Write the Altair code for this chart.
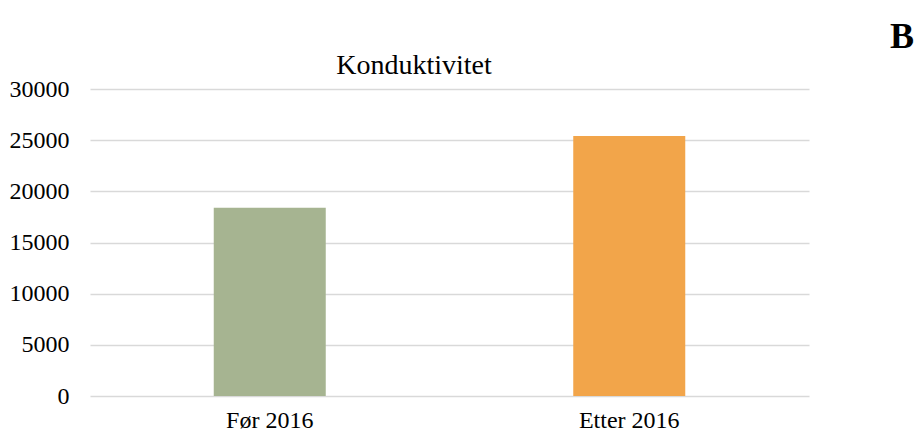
import altair as alt
import pandas as pd

categories = ["Før 2016", "Etter 2016"]
values = [18400, 25400]
colors = ["#A6B491", "#F2A54A"]
y_ticks = [0, 5000, 10000, 15000, 20000, 25000, 30000]
chart_title = "Konduktivitet"
panel_label = "B"

df = pd.DataFrame({"periode": categories, "verdi": values})

FONT = "Liberation Serif"

bars = alt.Chart(df).mark_bar(size=112).encode(
    x=alt.X("periode:N", sort=categories, title=None,
            scale=alt.Scale(paddingInner=0, paddingOuter=0),
            axis=alt.Axis(labelAngle=0, labelFont=FONT, labelFontSize=24,
                          labelColor="#000000", labelPadding=12,
                          ticks=False, domain=False)),
    y=alt.Y("verdi:Q", title=None,
            scale=alt.Scale(domain=[0, 30000]),
            axis=alt.Axis(values=y_ticks, format="d", labelFont=FONT,
                          labelFontSize=24, labelColor="#000000",
                          labelPadding=21, ticks=False, domain=False,
                          grid=True, gridColor="#d9d9d9", gridWidth=1.5)),
    color=alt.Color("periode:N", sort=categories,
                    scale=alt.Scale(domain=categories, range=colors),
                    legend=None),
)

title_text = alt.Chart(pd.DataFrame({"t": [chart_title]})).mark_text(
    font=FONT, fontSize=28, align="center", baseline="alphabetic",
    color="#000000"
).encode(text="t:N", x=alt.value(324), y=alt.value(-15))

label = alt.Chart(pd.DataFrame({"t": [panel_label]})).mark_text(
    font=FONT, fontSize=36, fontWeight="bold", align="right",
    baseline="alphabetic", color="#000000"
).encode(text="t:N", x=alt.value(824), y=alt.value(-41))

chart = alt.layer(bars, title_text, label).properties(
    width=719, height=307,
    autosize=alt.AutoSizeParams(type="none"),
    padding={"left": 82, "top": 81, "right": 106, "bottom": 38},
).configure_view(stroke=None)

chart.save("out.html", embed_options={"renderer": "svg", "actions": False})
